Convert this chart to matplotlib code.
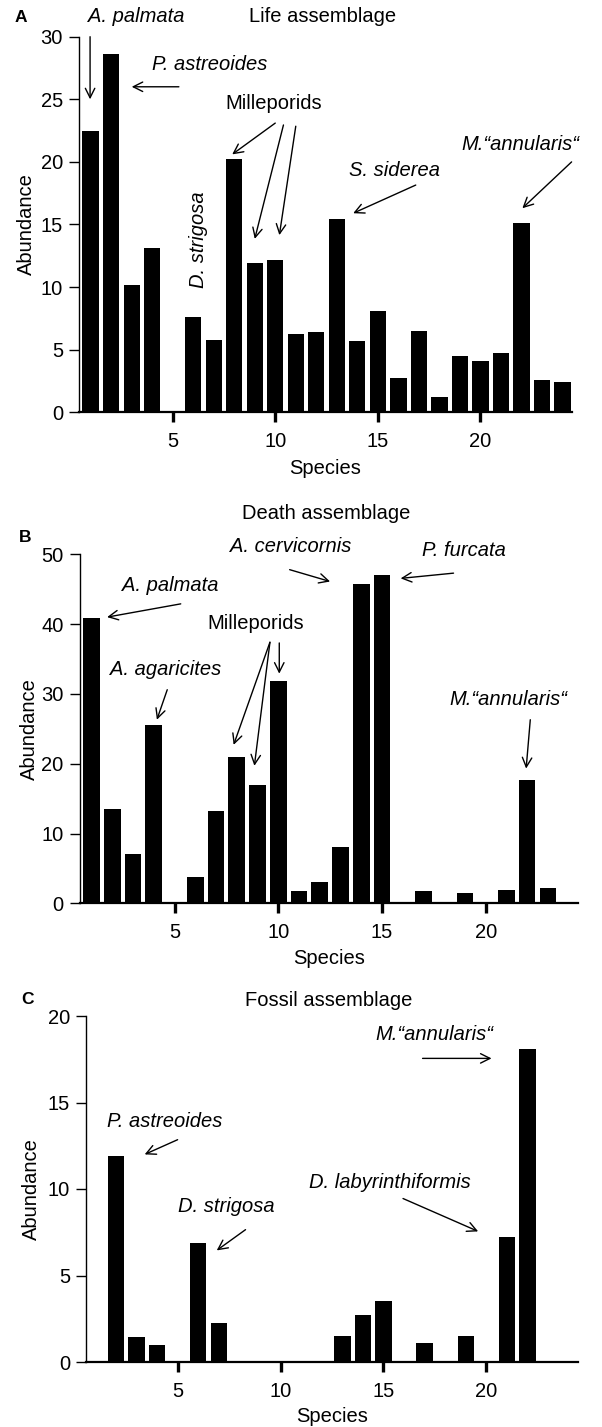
import numpy as np
import matplotlib
matplotlib.use("Agg")
import matplotlib.pyplot as plt

plt.rcParams['font.family'] = ['Liberation Sans', 'DejaVu Sans']

# species numbers and abundances
species = np.arange(1, 25)
life = [22.5, 28.6, 10.2, 13.1, 0, 7.6, 5.8, 20.2, 11.9, 12.2, 6.25, 6.4,
        15.4, 5.7, 8.1, 2.7, 6.5, 1.25, 4.5, 4.1, 4.75, 15.1, 2.6, 2.4]
death = [40.9, 13.5, 7.1, 25.6, 0, 3.7, 13.2, 21.0, 17.0, 31.8, 1.7, 3.05,
         8.1, 45.8, 47.1, 0, 1.8, 0, 1.5, 0, 1.9, 17.7, 2.2, 0]
fossil = [0, 11.9, 1.43, 1.0, 0, 6.9, 2.25, 0, 0, 0, 0, 0,
          1.5, 2.7, 3.5, 0, 1.08, 0, 1.5, 0, 7.2, 18.1, 0, 0]

titles = ["Life assemblage", "Death assemblage", "Fossil assemblage"]
letters = ["A", "B", "C"]
yticks = [[0, 5, 10, 15, 20, 25, 30], [0, 10, 20, 30, 40, 50], [0, 5, 10, 15, 20]]
xticks = [5, 10, 15, 20]

# annotations: (text, text xy, [(arrow start, arrow end), ...], rotation)
ann_life = [
    ("A. palmata", (3.2, 31.6), [((0.97, 30.0), (0.97, 25.0))], 0),
    ("P. astreoides", (6.8, 27.8), [((5.3, 26.0), (3.0, 26.0))], 0),
    ("D. strigosa", (6.27, 13.8), [], 90),
    ("S. siderea", (15.8, 19.35), [((16.85, 18.15), (13.8, 15.9))], 0),
    ("M.\u201cannularis\u201c", (21.95, 21.35), [((24.45, 20.0), (22.05, 16.3))], 0),
]
mill_life = ("Milleporids", (9.9, 24.7),
             [((10.0, 23.1), (7.9, 20.6)), ((10.4, 22.95), (9.0, 13.85)),
              ((11.0, 22.85), (10.2, 14.15))])

ann_death = [
    ("A. palmata", (4.8, 45.6), [((5.3, 42.9), (1.75, 41.0))], 0),
    ("A. cervicornis", (10.6, 51.1), [((10.55, 47.8), (12.5, 46.1))], 0),
    ("P. furcata", (18.95, 50.6), [((18.45, 47.3), (15.9, 46.55))], 0),
    ("A. agaricites", (4.55, 33.5), [((4.65, 30.6), (4.15, 26.3))], 0),
    ("M.\u201cannularis\u201c", (21.1, 29.2), [((22.15, 26.3), (21.95, 19.3))], 0),
]
mill_death = ("Milleporids", (8.9, 40.1),
              [((9.6, 37.4), (7.85, 22.7)), ((9.6, 37.4), (8.85, 19.7)),
               ((10.05, 37.3), (10.05, 32.9))])

ann_fossil = [
    ("P. astreoides", (4.35, 13.9), [((5.0, 12.85), (3.4, 12.0))], 0),
    ("D. strigosa", (7.35, 9.0), [((8.3, 7.65), (6.9, 6.45))], 0),
    ("M.\u201cannularis\u201c", (17.45, 18.95), [((16.9, 17.55), (20.25, 17.55))], 0),
    ("D. labyrinthiformis", (15.3, 10.4), [((15.95, 9.45), (19.6, 7.55))], 0),
]

W, H = 602, 1427
fig = plt.figure(figsize=(W / 100, H / 100), dpi=100)

# axes boxes in pixels: left, right, top, bottom
boxes = [(79, 572, 36.7, 412.3), (79.5, 578, 554.3, 903.3), (86, 578, 1016, 1362)]
xlims = [(0.43, 24.47), (0.42, 24.45), (0.55, 24.45)]
letter_pos = [(21, 17), (25, 537), (28, 1000)]
title_y = [17, 513, 1000]
xlabel_y = [468, 958, 1417]
ylabel_x = [26, 29, 31]

data = [life, death, fossil]
anns = [ann_life, ann_death, ann_fossil]
mills = [mill_life, mill_death, None]

fs = 14.5
arrow_kw = dict(arrowstyle="->", color="black", lw=1.0,
                shrinkA=0, shrinkB=0, mutation_scale=17)

for i in range(3):
    l, r, t, b = boxes[i]
    ax = fig.add_axes([l / W, 1 - b / H, (r - l) / W, (b - t) / H])
    ax.bar(species, data[i], width=0.8, color="black")
    ax.set_xlim(*xlims[i])
    ax.set_ylim(0, yticks[i][-1])
    ax.set_yticks(yticks[i])
    ax.set_xticks(xticks)
    for s in ["top", "right"]:
        ax.spines[s].set_visible(False)
    ax.spines["left"].set_linewidth(1.0)
    ax.spines["bottom"].set_linewidth(1.6)
    ax.tick_params(axis="y", direction="out", length=7.5, width=1.0,
                   labelsize=fs, pad=4)
    ax.tick_params(axis="x", direction="out", length=7.5, width=2.4,
                   labelsize=fs, pad=7)
    ax.set_ylabel("Abundance", fontsize=fs, va="center")
    ax.yaxis.set_label_coords((ylabel_x[i] - l) / (r - l), 0.5)
    ax.set_xlabel("Species", fontsize=fs, va="center")
    ax.xaxis.set_label_coords(0.5, -(xlabel_y[i] - b) / (b - t))

    # title and panel letter
    fig.text(((l + r) / 2 - 3) / W, 1 - title_y[i] / H, titles[i],
             ha="center", va="center", fontsize=fs)
    fig.text(letter_pos[i][0] / W, 1 - letter_pos[i][1] / H, letters[i],
             ha="center", va="center", fontsize=12.5, fontweight="bold")

    for txt, xy, arrows, rot in anns[i]:
        ax.text(xy[0], xy[1], txt, ha="center", va="center", style="italic",
                fontsize=fs, rotation=rot, clip_on=False)
        for start, end in arrows:
            ax.annotate("", xy=end, xytext=start, arrowprops=arrow_kw,
                        annotation_clip=False)
    if mills[i] is not None:
        txt, xy, arrows = mills[i]
        ax.text(xy[0], xy[1], txt, ha="center", va="center", fontsize=fs,
                clip_on=False)
        for start, end in arrows:
            ax.annotate("", xy=end, xytext=start, arrowprops=arrow_kw,
                        annotation_clip=False)

fig.savefig("out.png", dpi=100)
